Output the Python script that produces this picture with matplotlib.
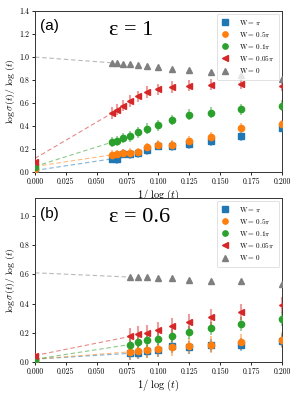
import numpy as np
import matplotlib
matplotlib.use('Agg')
import matplotlib.pyplot as plt
from matplotlib.ticker import FormatStrFormatter, MultipleLocator

plt.rcParams['font.family'] = 'serif'
plt.rcParams['font.serif'] = ['cmr10', 'DejaVu Serif']
plt.rcParams['mathtext.fontset'] = 'cm'
plt.rcParams['axes.unicode_minus'] = False

# x = 1/log(t)
x_a = [1/16, 1/15, 1/14, 1/13, 1/12, 1/11, 1/10, 1/9, 1/8, 1/7, 1/6, 1/5]
x_b = [1/13, 1/12, 1/11, 1/10, 1/9, 1/8, 1/7, 1/6, 1/5]

labels = [r'W$=\,\pi$', r'W$=\,0.5\pi$', r'W$=\,0.1\pi$', r'W$=\,0.05\pi$', r'W$=\,0$']
colors = ['#1f77b4', '#ff7f0e', '#2ca02c', '#d62728', '#7f7f7f']
markers = ['s', 'o', 'o', '<', '^']

# panel (a): epsilon = 1
a_pi = [0.116, 0.113, 0.160, 0.154, 0.163, 0.189, 0.229, 0.227, 0.241, 0.267, 0.311, 0.386]
a_05pi = [0.151, 0.154, 0.163, 0.168, 0.174, 0.215, 0.238, 0.238, 0.273, 0.305, 0.386, 0.415]
a_01pi = [0.261, 0.273, 0.299, 0.311, 0.346, 0.378, 0.407, 0.456, 0.500, 0.517, 0.546, 0.578]
a_005pi = [0.514, 0.543, 0.578, 0.619, 0.659, 0.697, 0.720, 0.741, 0.752, 0.761, 0.770, 0.752]
a_0 = [0.950, 0.950, 0.944, 0.938, 0.927, 0.920, 0.912, 0.900, 0.889, 0.871, 0.848, 0.807]
a_err = [0.04, 0.04, 0.045, 0.05, 0.0]
a_fit0 = [0.015, 0.05, 0.05, 0.12, 1.0]      # fitted value at 1/log(t) = 0
a_ext = [0.01, 0.03, 0.045, 0.09, None]      # extrapolated points at 0
a_ext_err = [0.015, 0.02, 0.02, 0.025, 0.0]

# panel (b): epsilon = 0.6
b_pi = [0.060, 0.065, 0.075, 0.080, 0.110, 0.100, 0.115, 0.120, 0.145]
b_05pi = [0.070, 0.075, 0.080, 0.090, 0.100, 0.110, 0.120, 0.135, 0.150]
b_01pi = [0.120, 0.135, 0.150, 0.160, 0.180, 0.205, 0.230, 0.260, 0.295]
b_005pi = [0.175, 0.190, 0.200, 0.220, 0.245, 0.275, 0.310, 0.340, 0.390]
b_0 = [0.581, 0.583, 0.579, 0.572, 0.577, 0.561, 0.551, 0.556, 0.531]
b_err = [0.045, 0.055, 0.045, 0.055, 0.0]
b_fit0 = [0.02, 0.02, 0.02, 0.045, 0.61]
b_ext = [0.005, 0.01, 0.012, 0.04, None]
b_ext_err = [0.01, 0.01, 0.015, 0.02, 0.0]

fig = plt.figure(figsize=(2.99, 3.94), dpi=100)
ax_a = fig.add_axes([0.117, 0.563, 0.826, 0.409])
ax_b = fig.add_axes([0.117, 0.081, 0.826, 0.416])

panels = [
    (ax_a, x_a, [a_pi, a_05pi, a_01pi, a_005pi, a_0], a_err, a_fit0, a_ext, a_ext_err,
     1.4, '(a)', r'ε = 1'),
    (ax_b, x_b, [b_pi, b_05pi, b_01pi, b_005pi, b_0], b_err, b_fit0, b_ext, b_ext_err,
     1.12, '(b)', r'ε = 0.6'),
]

for ax, xs, series, errs, fit0, ext, ext_err, ytop, tag, eps in panels:
    for k, ys in enumerate(series):
        c = colors[k]
        # dashed extrapolation line to 1/log(t) = 0
        ax.plot([0, xs[0]], [fit0[k], ys[0]], ls='--', color=c, lw=0.8, alpha=0.55,
                dashes=(4, 2.5), zorder=1)
        if errs[k] > 0:
            ax.errorbar(xs, ys, yerr=errs[k], fmt='none', ecolor=c, elinewidth=1.5,
                        alpha=0.45, zorder=2)
        ax.plot(xs, ys, ls='none', marker=markers[k], color=c, ms=4.5, label=labels[k],
                zorder=3)
        if ext[k] is not None:
            ax.errorbar([0], [ext[k]], yerr=ext_err[k], fmt=markers[k], color=c, ms=4.5,
                        elinewidth=1.5, zorder=3)

    ax.set_xlim(0, 0.2)
    ax.set_ylim(0, ytop)
    ax.xaxis.set_major_locator(MultipleLocator(0.025))
    ax.yaxis.set_major_locator(MultipleLocator(0.2))
    ax.xaxis.set_major_formatter(FormatStrFormatter('%.3f'))
    ax.yaxis.set_major_formatter(FormatStrFormatter('%.1f'))
    ax.tick_params(labelsize=5.6, length=2.5, width=0.6, pad=1.5)
    for sp in ax.spines.values():
        sp.set_linewidth(0.7)
        sp.set_color('#333333')
    ax.set_xlabel(r'$1/\ \log\,(t)$', fontsize=7.5, labelpad=1)
    ax.set_ylabel(r'$\log\sigma(t)/\ \log\,(t)$', fontsize=7, labelpad=2)

    leg = ax.legend(loc='upper right', fontsize=5.2, frameon=True, handlelength=1.0,
                    handletextpad=1.5, borderpad=0.6, labelspacing=0.5,
                    borderaxespad=0.4, markerscale=0.85)
    leg.get_frame().set_linewidth(0.5)
    leg.get_frame().set_edgecolor('#cccccc')

    ax.text(0.022, 0.905, tag, transform=ax.transAxes, fontsize=11,
            family='Liberation Sans', va='center', ha='left')
    ax.text(0.30, 0.88, eps, transform=ax.transAxes, fontsize=16,
            family='Liberation Serif', va='center', ha='left')

fig.savefig('out.png', dpi=100, facecolor='white')
